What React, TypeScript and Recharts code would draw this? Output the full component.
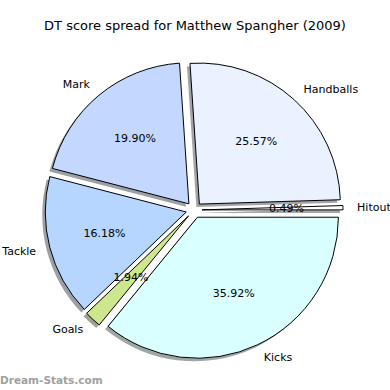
import { PieChart, Pie, Sector } from "recharts";

const categories = ["Hitout", "Handballs", "Mark", "Tackle", "Goals", "Kicks"];
const shares = [0.49, 25.57, 19.9, 16.18, 1.94, 35.92];
const colors = ["#ffffff", "#eaf1ff", "#c4d8ff", "#b6d6ff", "#cde88c", "#d9ffff"];

const data = categories.map((name, i) => ({ name, value: shares[i] }));

const RAD = Math.PI / 180;
const EXPLODE = 8;
const SHADOW = 3;

// shadow tone like matplotlib: 0.3 * face colour at half alpha over white
const shadowOf = (hex: string) => {
  const n = parseInt(hex.slice(1), 16);
  const ch = [(n >> 16) & 255, (n >> 8) & 255, n & 255].map((c) =>
    Math.round(0.3 * c * 0.5 + 255 * 0.5)
  );
  return `rgb(${ch.join(",")})`;
};

const offset = (mid: number) => ({
  dx: EXPLODE * Math.cos(-mid * RAD),
  dy: EXPLODE * Math.sin(-mid * RAD),
});

const renderWedge = (p: any) => {
  const { cx, cy, outerRadius, startAngle, endAngle, midAngle, index } = p;
  const { dx, dy } = offset(midAngle);
  const fill = colors[index];
  return (
    <g key={`w-${index}`}>
      <Sector
        cx={cx + dx - SHADOW}
        cy={cy + dy + SHADOW}
        innerRadius={0}
        outerRadius={outerRadius}
        startAngle={startAngle}
        endAngle={endAngle}
        fill={shadowOf(fill)}
        stroke="none"
      />
      <Sector
        cx={cx + dx}
        cy={cy + dy}
        innerRadius={0}
        outerRadius={outerRadius}
        startAngle={startAngle}
        endAngle={endAngle}
        fill={fill}
        stroke="#000"
        strokeWidth={1}
      />
    </g>
  );
};

const renderText = (p: any) => {
  const { cx, cy, outerRadius, midAngle, index, name, value } = p;
  const { dx, dy } = offset(midAngle);
  const cos = Math.cos(-midAngle * RAD);
  const sin = Math.sin(-midAngle * RAD);
  const ox = cx + dx;
  const oy = cy + dy;
  const lx = ox + outerRadius * 1.1 * cos;
  const ly = oy + outerRadius * 1.1 * sin;
  const px = ox + outerRadius * 0.6 * cos;
  const py = oy + outerRadius * 0.6 * sin;
  return (
    <g key={`t-${index}`}>
      <text
        x={lx}
        y={ly}
        textAnchor={cos >= 0 ? "start" : "end"}
        dominantBaseline="central"
        fontSize={11}
        fill="#000"
        stroke="none"
      >
        {name}
      </text>
      <text
        x={px}
        y={py}
        textAnchor="middle"
        dominantBaseline="central"
        fontSize={11}
        fill="#000"
        stroke="none"
      >
        {`${value.toFixed(2)}%`}
      </text>
    </g>
  );
};

export default function App() {
  return (
    <div
      style={{
        position: "absolute",
        left: 0,
        top: 0,
        width: 390,
        height: 390,
        background: "#fff",
        fontFamily: "'DejaVu Sans', sans-serif",
      }}
    >
      <PieChart width={390} height={390} margin={{ top: 0, right: 0, bottom: 0, left: 0 }}>
        <text x={195} y={25} textAnchor="middle" dominantBaseline="central" fontSize={13} fill="#000">
          DT score spread for Matthew Spangher (2009)
        </text>
        <Pie
          data={data}
          dataKey="value"
          nameKey="name"
          cx={194}
          cy={210}
          outerRadius={141}
          startAngle={0}
          endAngle={360}
          fill="none"
          stroke="none"
          label={renderWedge}
          labelLine={false}
          isAnimationActive={false}
        />
        <Pie
          data={data}
          dataKey="value"
          nameKey="name"
          cx={194}
          cy={210}
          outerRadius={141}
          startAngle={0}
          endAngle={360}
          fill="none"
          stroke="none"
          label={renderText}
          labelLine={false}
          isAnimationActive={false}
        />
        <text x={0} y={380} dominantBaseline="central" fontSize={10.5} fontWeight="bold" fill="#a0a0a0">
          Dream-Stats.com
        </text>
      </PieChart>
    </div>
  );
}
